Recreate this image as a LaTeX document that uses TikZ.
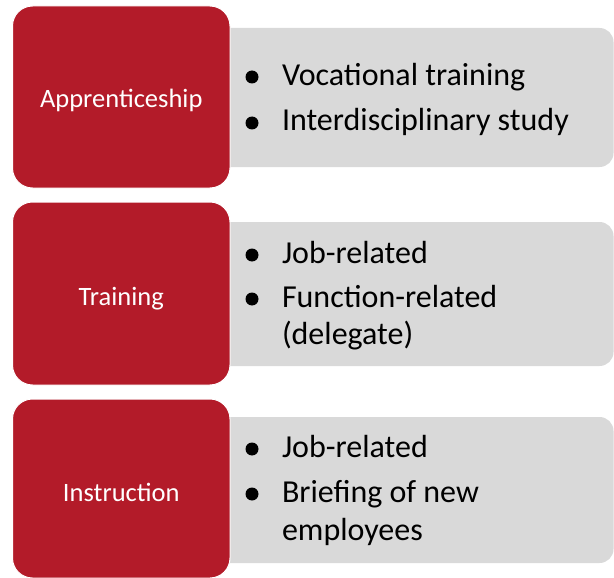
\documentclass[tikz,border=0pt]{standalone}
\usepackage{fontspec}
\setmainfont{Carlito}
\definecolor{boxred}{RGB}{179,27,41}
\definecolor{boxgray}{RGB}{217,217,217}
\begin{document}
\begin{tikzpicture}[x=1pt,y=-1pt,
  redbox/.style={rectangle,rounded corners=20pt,fill=boxred,draw=white,line width=1pt,
    inner sep=0pt,outer sep=0pt,minimum width=217.5pt,text=white,
    font=\fontsize{26.5}{31}\selectfont},
  graybox/.style={rectangle,rounded corners=14pt,fill=boxgray,draw=none,
    inner sep=0pt,outer sep=0pt,minimum width=413.5pt},
  item/.style={anchor=base west,inner sep=0pt,outer sep=0pt,font=\fontsize{32}{38}\selectfont},
  label/.style={anchor=base,inner sep=0pt,outer sep=0pt,text=white,font=\fontsize{26.5}{31}\selectfont},
  dot/.style={circle,fill=black,inner sep=0pt,minimum size=13pt}
]
\useasboundingbox (0,0) rectangle (614,578);
% gray boxes
\node[graybox,minimum height=139pt] (g1) at (406.75,97.5) {};
\node[graybox,minimum height=144pt] (g2) at (406.75,294) {};
\node[graybox,minimum height=146pt] (g3) at (406.75,490) {};
% red boxes
\node[redbox,minimum height=182pt] (r1) at (121.25,97) {};
\node[redbox,minimum height=183pt] (r2) at (121.25,293.5) {};
\node[redbox,minimum height=179pt] (r3) at (121.25,488.5) {};
% labels
\node[label] (l1) at (121.25,108) {Apprenticeship};
\node[label] (l2) at (121.25,305) {Training};
\node[label] (l3) at (121.25,501) {Instruction};
% box 1 items
\node[dot] (b11) at (252,77) {};
\node[item] (t11) at (282,85) {Vocational training};
\node[dot] (b12) at (252,123) {};
\node[item] (t12) at (282,131) {Interdisciplinary study};
% box 2 items
\node[dot] (b21) at (252,255) {};
\node[item] (t21) at (282,263) {Job-related};
\node[dot] (b22) at (252,299) {};
\node[item] (t22) at (282,307) {Function-related};
\node[item] (t22b) at (282,344) {(delegate)};
% box 3 items
\node[dot] (b31) at (252,449) {};
\node[item] (t31) at (282,457) {Job-related};
\node[dot] (b32) at (252,494) {};
\node[item] (t32) at (282,502) {Briefing of new};
\node[item] (t32b) at (282,540) {employees};
\end{tikzpicture}
\end{document}
